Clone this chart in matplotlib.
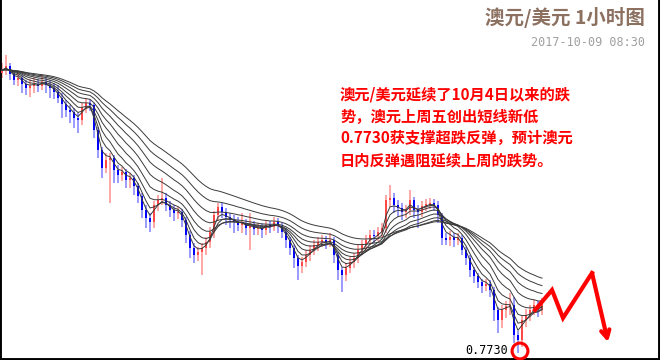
import numpy as np
import pandas as pd
import matplotlib
matplotlib.use("Agg")
import matplotlib.pyplot as plt

plt.rcParams['font.family'] = ['Noto Sans CJK SC', 'DejaVu Sans']

# hourly AUD/USD, prices in 1/10000
close = np.array([
    8013, 8017, 8009, 8003, 8005, 7999, 7995, 7997, 7999, 7997,
    8001, 7998, 7995, 7991, 7985, 7979, 7973, 7971, 7965, 7963,
    7975, 7980, 7978, 7953, 7933, 7915, 7923, 7925, 7913, 7908,
    7911, 7903, 7905, 7897, 7887, 7873, 7865, 7861, 7878, 7883,
    7885, 7878, 7873, 7870, 7871, 7863, 7848, 7835, 7828, 7831,
    7835, 7841, 7851, 7868, 7876, 7871, 7866, 7863, 7861, 7858,
    7860, 7855, 7857, 7854, 7855, 7853, 7858, 7856, 7861, 7857,
    7851, 7843, 7835, 7825, 7817, 7821, 7828, 7833, 7838, 7841,
    7843, 7841, 7843, 7828, 7813, 7808, 7815, 7821, 7825, 7833,
    7838, 7843, 7848, 7847, 7851, 7855, 7883, 7885, 7878, 7875,
    7871, 7873, 7883, 7873, 7871, 7877, 7879, 7880, 7878, 7868,
    7845, 7843, 7846, 7843, 7845, 7833, 7825, 7813, 7807, 7801,
    7797, 7799, 7793, 7773, 7763, 7773, 7777, 7778, 7748, 7743,
    7763, 7768, 7773, 7778, 7773, 7780]) / 1e4
high = np.array([
    8020, 8028, 8020, 8012, 8010, 8008, 8003, 8004, 8006, 8004,
    8009, 8005, 8003, 8000, 7998, 7990, 7983, 7978, 7975, 7970,
    7980, 7985, 7984, 7980, 7956, 7936, 7930, 7930, 7928, 7918,
    7916, 7914, 7910, 7908, 7900, 7890, 7878, 7870, 7882, 7888,
    7905, 7890, 7882, 7878, 7876, 7874, 7866, 7852, 7840, 7836,
    7840, 7846, 7856, 7872, 7880, 7880, 7875, 7870, 7868, 7866,
    7870, 7864, 7870, 7862, 7860, 7860, 7863, 7862, 7866, 7865,
    7860, 7855, 7846, 7838, 7828, 7826, 7833, 7838, 7843, 7846,
    7848, 7847, 7850, 7846, 7831, 7816, 7820, 7826, 7830, 7838,
    7843, 7848, 7853, 7853, 7856, 7860, 7888, 7898, 7890, 7883,
    7880, 7878, 7893, 7886, 7878, 7882, 7884, 7885, 7884, 7882,
    7870, 7850, 7852, 7850, 7850, 7848, 7836, 7828, 7816, 7810,
    7804, 7804, 7803, 7796, 7776, 7778, 7782, 7790, 7786, 7752,
    7768, 7774, 7778, 7783, 7782, 7785]) / 1e4
low = np.array([
    8005, 8008, 8003, 7998, 7997, 7990, 7988, 7986, 7990, 7991,
    7993, 7990, 7985, 7984, 7980, 7965, 7966, 7960, 7955, 7950,
    7958, 7970, 7972, 7945, 7925, 7905, 7910, 7880, 7900, 7900,
    7902, 7895, 7895, 7888, 7880, 7865, 7855, 7851, 7855, 7872,
    7878, 7872, 7866, 7862, 7864, 7856, 7840, 7825, 7820, 7822,
    7808, 7828, 7835, 7845, 7862, 7865, 7858, 7855, 7850, 7852,
    7850, 7848, 7833, 7848, 7848, 7845, 7848, 7850, 7852, 7850,
    7845, 7835, 7828, 7815, 7803, 7810, 7816, 7822, 7828, 7832,
    7836, 7834, 7836, 7820, 7803, 7791, 7802, 7810, 7815, 7820,
    7828, 7833, 7838, 7840, 7842, 7846, 7850, 7876, 7870, 7866,
    7863, 7865, 7868, 7865, 7855, 7866, 7872, 7874, 7872, 7860,
    7838, 7838, 7837, 7836, 7838, 7828, 7818, 7806, 7800, 7795,
    7790, 7792, 7786, 7762, 7750, 7755, 7765, 7768, 7740, 7730,
    7736, 7756, 7762, 7768, 7766, 7768]) / 1e4
first_open = 0.8010
open_ = np.r_[first_open, close[:-1]]

ma_spans = [3, 5, 8, 12, 17, 23, 30, 38]

# forecast zigzag (candle index, price)
fc_x = [133.25, 137.5, 140.25, 147.5, 151.5]
fc_y = [0.7773, 0.7793, 0.7765, 0.7810, 0.7741]

low_label = "0.7730"
low_idx = 129
title = "澳元/美元 1小时图"
stamp = "2017-10-09 08:30"
comment = ["澳元/美元延续了10月4日以来的跌",
           "势，澳元上周五创出短线新低",
           "0.7730获支撑超跌反弹，预计澳元",
           "日内反弹遇阻延续上周的跌势。"]

fig = plt.figure(figsize=(6.6, 3.6), dpi=100)
ax = fig.add_axes([0, 0, 1, 1])
ax.set_xlim(-0.5, 164.5)
ax.set_ylim(0.7723, 0.8083)

x = np.arange(len(close))
up = close >= open_
ax.vlines(x[up], low[up], high[up], color='#ff9090', lw=1.1, zorder=2)
ax.vlines(x[~up], low[~up], high[~up], color='#8080ff', lw=1.1, zorder=2)
body_lo = np.minimum(open_, close)
body_h = np.maximum(np.abs(close - open_), 0.0001)
ax.bar(x[up], body_h[up], bottom=body_lo[up], width=0.7, color='#ff4848', zorder=3)
ax.bar(x[~up], body_h[~up], bottom=body_lo[~up], width=0.7, color='#0000ff', zorder=3)

s = pd.Series(close)
for sp in ma_spans:
    ax.plot(x, s.ewm(span=sp, adjust=False).mean(), color='#3a3a3a', lw=0.7, zorder=4)

ax.plot(fc_x[:-1], fc_y[:-1], color='#ff0000', lw=3, solid_joinstyle='miter', zorder=5)
ax.annotate("", xy=(fc_x[-1], fc_y[-1]), xytext=(fc_x[-2], fc_y[-2]),
            arrowprops=dict(arrowstyle='->,head_length=0.55,head_width=0.3',
                            color='#ff0000', lw=3, shrinkA=0, shrinkB=0), zorder=5)

ax.scatter([low_idx + 0.5], [low[low_idx] + 0.0002], s=130, facecolors='none',
           edgecolors='#ff0000', linewidths=2.2, zorder=6)
ax.text(126.5, low[low_idx] + 0.0002, low_label, ha='right', va='center',
        fontsize=8.5, family='DejaVu Sans Mono', color='black')

for k, line in enumerate(comment):
    fig.text(340 / 660, 1 - (95 + 21.7 * k) / 360, line, ha='left', va='center',
             fontsize=11, fontweight='bold', color='#ff0000')

fig.text(645 / 660, 1 - 18 / 360, title, ha='right', va='center',
         fontsize=14, fontweight='bold', color='#8c7060')
fig.text(645 / 660, 1 - 43 / 360, stamp, ha='right', va='center',
         fontsize=8.5, family='DejaVu Sans Mono', color='#a0a0a0')

ax.set_xticks([])
ax.set_yticks([])
ax.spines['top'].set_visible(False)
for side in ['left', 'right', 'bottom']:
    ax.spines[side].set_linewidth(2.8)

fig.savefig("out.png", dpi=100)
